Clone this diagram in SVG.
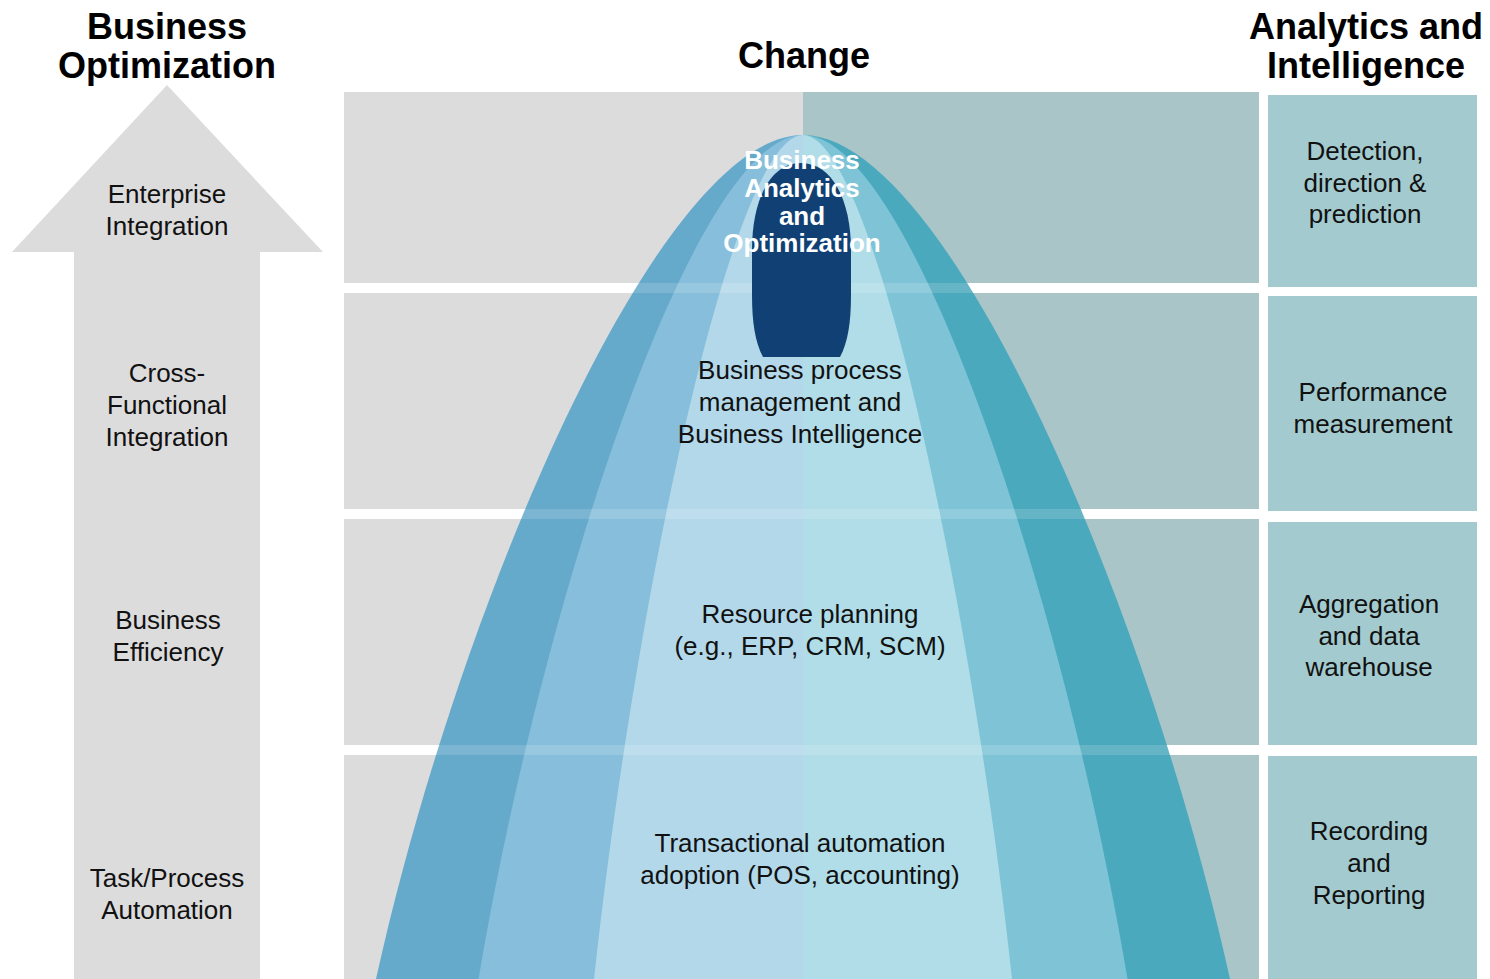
<svg xmlns="http://www.w3.org/2000/svg" xmlns:xlink="http://www.w3.org/1999/xlink" width="1490" height="979" viewBox="0 0 1490 979">
<style>
.t{font-family:"Liberation Sans",Arial,sans-serif;font-size:26px;fill:#111;text-anchor:middle}
.h{font-family:"Liberation Sans",Arial,sans-serif;font-size:36px;font-weight:bold;fill:#000;text-anchor:middle}
.w{font-family:"Liberation Sans",Arial,sans-serif;font-size:26px;font-weight:bold;fill:#fff;text-anchor:middle}
.bgL{fill:#dcdcdc}
.bgR{fill:#a9c5c8}
.box{fill:#a3cbcf}
.gap{fill:#fff;opacity:0.15}
</style>
<defs>
<clipPath id="cL"><rect x="0" y="0" width="803" height="979"/></clipPath>
<clipPath id="cR"><rect x="803" y="0" width="687" height="979"/></clipPath>
<path id="pOuter" d="M 376 979 C 460 600 660 135 803 135 C 946 135 1146 600 1230 979 Z"/>
<path id="pMid" d="M 478.5 979 C 542.3 600 694.3 135 803 135 C 911.7 135 1063.7 600 1127.5 979 Z"/>
<path id="pInner" d="M 594 979 C 635 600 733 135 803 135 C 873 135 971 600 1012 979 Z"/>
</defs>
<rect width="1490" height="979" fill="#fff"/>

<g id="headers">
<text class="h" x="167" y="39">Business</text>
<text class="h" x="167" y="78">Optimization</text>
<text class="h" x="804" y="68">Change</text>
<text class="h" x="1366" y="39">Analytics and</text>
<text class="h" x="1366" y="78">Intelligence</text>
</g>

<g id="arrow">
<polygon points="167,85 323,252 260,252 260,979 74,979 74,252 12,252" fill="#dcdcdc"/>
<text class="t" x="167" y="203">Enterprise</text>
<text class="t" x="167" y="235">Integration</text>
<text class="t" x="167" y="382">Cross-</text>
<text class="t" x="167" y="414">Functional</text>
<text class="t" x="167" y="446">Integration</text>
<text class="t" x="168" y="629">Business</text>
<text class="t" x="168" y="661">Efficiency</text>
<text class="t" x="167" y="887">Task/Process</text>
<text class="t" x="167" y="919">Automation</text>
</g>

<g id="background">
<rect class="bgL" x="344" y="92" width="459" height="191"/>
<rect class="bgR" x="803" y="92" width="456" height="191"/>
<rect class="bgL" x="344" y="293" width="459" height="216"/>
<rect class="bgR" x="803" y="293" width="456" height="216"/>
<rect class="bgL" x="344" y="519" width="459" height="226"/>
<rect class="bgR" x="803" y="519" width="456" height="226"/>
<rect class="bgL" x="344" y="755" width="459" height="224"/>
<rect class="bgR" x="803" y="755" width="456" height="224"/>
</g>

<g id="parabola">
<g clip-path="url(#cL)">
<use xlink:href="#pOuter" fill="#65a9cb"/>
<use xlink:href="#pMid" fill="#86bedb"/>
<use xlink:href="#pInner" fill="#b3d8ea"/>
</g>
<g clip-path="url(#cR)">
<use xlink:href="#pOuter" fill="#4ba9be"/>
<use xlink:href="#pMid" fill="#7ec4d6"/>
<use xlink:href="#pInner" fill="#b0dde8"/>
</g>
<rect class="gap" x="344" y="283" width="915" height="10"/>
<rect class="gap" x="344" y="509" width="915" height="10"/>
<rect class="gap" x="344" y="745" width="915" height="10"/>
</g>

<g id="bao">
<path d="M 752 250 C 752 200 770 163 801 163 C 832 163 851 200 851 250 L 851 295 C 851 322 848 342 840 357 L 763 357 C 755 342 752 322 752 295 Z" fill="#114174"/>
<text class="w" x="802" y="169">Business</text>
<text class="w" x="802" y="197">Analytics</text>
<text class="w" x="802" y="225">and</text>
<text class="w" x="802" y="252">Optimization</text>
</g>

<g id="bpm">
<text class="t" x="800" y="379">Business process</text>
<text class="t" x="800" y="411">management and</text>
<text class="t" x="800" y="443">Business Intelligence</text>
</g>
<g id="resource">
<text class="t" x="810" y="623">Resource planning</text>
<text class="t" x="810" y="655">(e.g., ERP, CRM, SCM)</text>
</g>
<g id="transactional">
<text class="t" x="800" y="852">Transactional automation</text>
<text class="t" x="800" y="884">adoption (POS, accounting)</text>
</g>

<g id="box-detection">
<rect class="box" x="1268" y="95" width="209" height="192"/>
<text class="t" x="1365" y="160">Detection,</text>
<text class="t" x="1365" y="192">direction &amp;</text>
<text class="t" x="1365" y="223">prediction</text>
</g>
<g id="box-performance">
<rect class="box" x="1268" y="296" width="209" height="215"/>
<text class="t" x="1373" y="401">Performance</text>
<text class="t" x="1373" y="433">measurement</text>
</g>
<g id="box-aggregation">
<rect class="box" x="1268" y="522" width="209" height="223"/>
<text class="t" x="1369" y="613">Aggregation</text>
<text class="t" x="1369" y="645">and data</text>
<text class="t" x="1369" y="676">warehouse</text>
</g>
<g id="box-recording">
<rect class="box" x="1268" y="756" width="209" height="223"/>
<text class="t" x="1369" y="840">Recording</text>
<text class="t" x="1369" y="872">and</text>
<text class="t" x="1369" y="904">Reporting</text>
</g>
</svg>
